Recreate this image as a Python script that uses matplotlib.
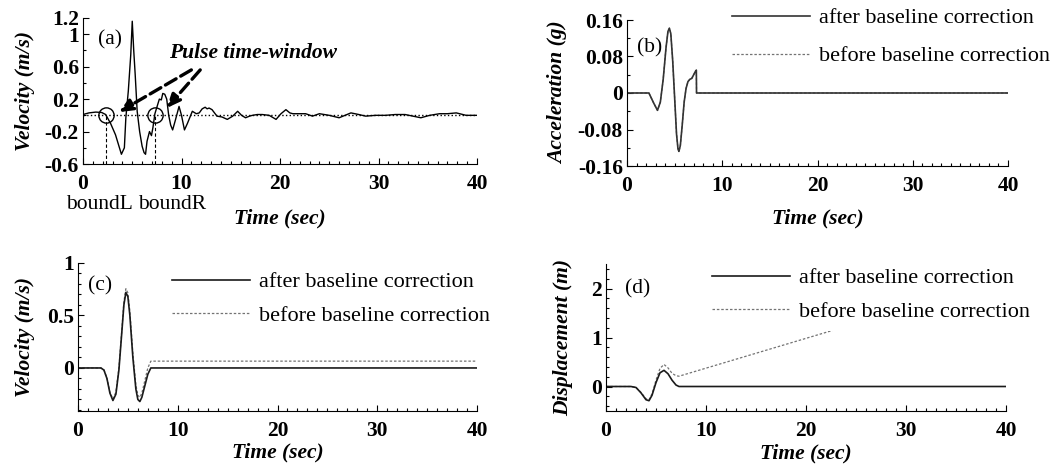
import matplotlib
matplotlib.use('Agg')
import matplotlib.pyplot as plt
from matplotlib.ticker import MultipleLocator, FixedLocator, FixedFormatter

plt.rcParams['font.family'] = ['Liberation Serif', 'DejaVu Serif']
plt.rcParams['axes.unicode_minus'] = False

# (a) recorded velocity
t_a = [0, 0.6, 1.3, 1.9, 2.3, 2.8, 3.3, 3.7, 3.9, 4.2, 4.35, 4.6, 4.85, 5.0, 5.15,
       5.3, 5.5, 5.75, 6.0, 6.2, 6.35, 6.5, 6.75, 6.95, 7.1, 7.3, 7.5, 7.75, 7.95,
       8.1, 8.3, 8.5, 8.7, 8.9, 9.1, 9.4, 9.75, 10.0, 10.3, 10.6, 11.1, 11.5, 11.8,
       12.1, 12.4, 12.6, 12.8, 13.1, 13.6, 14.1, 14.65, 15.2, 15.7, 16.1, 16.5,
       16.9, 17.2, 17.7, 18.2, 18.9, 19.6, 20.1, 20.6, 21.0, 21.3, 22.0, 22.6,
       23.3, 24.0, 25.0, 26.0, 27.2, 28.0, 28.7, 29.7, 30.7, 31.7, 32.7, 33.5,
       34.3, 35.2, 36.2, 37.0, 37.9, 38.9, 40]
v_a = [0.01, 0.03, 0.04, 0.035, 0.01, -0.1, -0.24, -0.4, -0.48, -0.4, -0.03, 0.3,
       0.75, 1.16, 0.8, 0.5, 0.05, -0.2, -0.38, -0.46, -0.48, -0.32, -0.2, -0.25,
       -0.15, 0.02, 0.1, 0.2, 0.19, 0.27, 0.26, 0.2, 0.0, -0.12, -0.18, -0.05, 0.11,
       0.0, -0.18, -0.1, 0.05, 0.02, 0.03, 0.08, 0.1, 0.08, 0.09, 0.07, -0.01,
       -0.02, -0.05, -0.01, 0.05, 0.0, -0.03, -0.01, 0.0, 0.01, 0.01, 0.0, -0.05,
       0.02, 0.07, 0.03, 0.02, 0.02, 0.02, -0.01, 0.02, 0.0, -0.03, 0.03, 0.01,
       -0.01, 0.0, 0.0, 0.01, 0.01, -0.01, -0.03, 0.0, 0.02, 0.02, 0.03, 0.0, 0.0]
bounds = [2.3, 7.3]

# (b) acceleration of extracted pulse
t_b = [0, 2.3, 2.8, 3.2, 3.5, 3.8, 4.1, 4.3, 4.45, 4.6, 4.8, 5.0, 5.2, 5.35, 5.45,
       5.6, 5.8, 6.0, 6.2, 6.4, 6.6, 6.8, 7.0, 7.2, 7.28, 7.3, 40]
acc_after = [0, 0, -0.022, -0.038, -0.02, 0.03, 0.10, 0.135, 0.142, 0.13, 0.07,
             -0.01, -0.09, -0.122, -0.128, -0.115, -0.07, -0.02, 0.01, 0.025, 0.03,
             0.032, 0.04, 0.048, 0.05, 0, 0]
acc_before = [0, 0, -0.022, -0.038, -0.02, 0.03, 0.10, 0.135, 0.142, 0.13, 0.07,
              -0.01, -0.09, -0.122, -0.128, -0.115, -0.07, -0.02, 0.01, 0.025, 0.03,
              0.032, 0.04, 0.048, 0.05, 0, 0]

# (c) velocity
t_c = [0, 2.3, 2.6, 2.9, 3.2, 3.5, 3.8, 4.1, 4.4, 4.6, 4.8, 5.0, 5.2, 5.5, 5.8,
       6.0, 6.2, 6.4, 6.7, 7.0, 7.3, 40]
vel_after = [0, 0, -0.02, -0.1, -0.24, -0.31, -0.25, -0.02, 0.35, 0.6, 0.72, 0.68,
             0.5, 0.1, -0.2, -0.3, -0.32, -0.28, -0.17, -0.06, 0, 0]
vel_before = [0, 0, -0.018, -0.095, -0.23, -0.295, -0.23, 0.0, 0.37, 0.63, 0.755,
              0.715, 0.54, 0.14, -0.16, -0.26, -0.28, -0.24, -0.12, 0.0, 0.065, 0.065]

# (d) displacement
t_d = [0, 2.5, 3.0, 3.5, 4.0, 4.3, 4.6, 5.0, 5.4, 5.8, 6.2, 6.6, 7.0, 7.3, 40]
disp_after = [0, 0, -0.02, -0.13, -0.27, -0.29, -0.18, 0.08, 0.28, 0.33, 0.26,
              0.13, 0.03, 0.0, 0.0]
disp_before = [0, 0, -0.02, -0.12, -0.25, -0.27, -0.15, 0.13, 0.37, 0.45, 0.38,
               0.27, 0.22, 0.21, 2.2]

W, H = 1064.0, 472.0
FS = 15.5
bold = dict(fontsize=FS, fontweight='bold', fontstyle='italic')

fig = plt.figure(figsize=(10.64, 4.72), dpi=100)


def make_axes(l, r, top, bot):
    return fig.add_axes([l / W, 1 - bot / H, (r - l) / W, (bot - top) / H])


def style(ax, ylim, yticks, ylabels, yminor, ylab, ylab_x, xlab_y):
    ax.set_xlim(0, 40)
    ax.set_ylim(*ylim)
    for s in ['top', 'right']:
        ax.spines[s].set_visible(False)
    ax.xaxis.set_major_locator(FixedLocator([0, 10, 20, 30, 40]))
    ax.xaxis.set_minor_locator(MultipleLocator(1))
    ax.yaxis.set_major_locator(FixedLocator(yticks))
    ax.yaxis.set_major_formatter(FixedFormatter(ylabels))
    ax.yaxis.set_minor_locator(MultipleLocator(yminor))
    ax.tick_params(which='major', direction='in', length=4, width=0.8)
    ax.tick_params(which='minor', direction='in', length=2, width=0.8)
    ax.tick_params(axis='x', which='major', pad=7)
    ax.tick_params(axis='y', which='major', pad=3)
    for lab in ax.get_xticklabels() + ax.get_yticklabels():
        lab.set_fontsize(FS)
        lab.set_fontweight('bold')
    ax.set_xlabel('Time (sec)', va='center', **bold)
    ax.xaxis.set_label_coords(0.5, xlab_y)
    ax.set_ylabel(ylab, va='center', **bold)
    ax.yaxis.set_label_coords(ylab_x, 0.5)


def add_legend(ax, x, y, spacing):
    # after-correction first, before-correction second
    h, l = ax.get_legend_handles_labels()
    ax.legend(h[::-1], l[::-1], loc='upper left',
              bbox_to_anchor=(x / W, 1 - y / H), bbox_transform=fig.transFigure,
              frameon=True, fancybox=False, edgecolor='none', facecolor='white',
              framealpha=1, fontsize=16, handlelength=3.5, handletextpad=0.4,
              borderpad=0.4, labelspacing=spacing, borderaxespad=0)


# ---- (a)
ax = make_axes(83, 477, 18, 164)
ax.plot([0, 40], [0, 0], 'k:', lw=1)
for b in bounds:
    ax.plot([b, b], [-0.6, 0], 'k--', lw=0.8, dashes=(3, 2))
ax.plot(t_a, v_a, color='k', lw=1)
ax.plot(bounds, [0, 0], 'o', mfc='none', mec='k', ms=11, mew=1)
ax.annotate('', xy=(3.65, 0.04), xytext=(11.0, 0.56),
            arrowprops=dict(arrowstyle='-|>,head_length=0.8,head_width=0.35',
                            ls='--', lw=2.4, color='k', shrinkA=0, shrinkB=0))
ax.annotate('', xy=(8.5, 0.09), xytext=(11.9, 0.56),
            arrowprops=dict(arrowstyle='-|>,head_length=0.8,head_width=0.35',
                            ls='--', lw=2.4, color='k', shrinkA=0, shrinkB=0))
ax.text(17.3, 0.77, 'Pulse time-window', ha='center', va='center', **bold)
ax.text(1.5, 0.93, '(a)', fontsize=FS, ha='left', va='center')
ax.text(1.7, -1.1, 'boundL', fontsize=FS, ha='center', va='center')
ax.text(9.0, -1.1, 'boundR', fontsize=FS, ha='center', va='center')
style(ax, (-0.6, 1.2), [-0.6, -0.2, 0.2, 0.6, 1, 1.2],
      ['-0.6', '-0.2', '0.2', '0.6', '1', '1.2'], 0.2,
      'Velocity (m/s)', (25 - 83) / 394, (164 - 218) / 146)

# ---- (b)
axb = make_axes(627, 1008, 20, 166)
axb.plot(t_b, acc_before, color='0.45', lw=0.9, ls='--', dashes=(2, 1.5),
         label='before baseline correction')
axb.plot(t_b, acc_after, color='0.2', lw=1.2, label='after baseline correction')
axb.text(1.0, 0.1, '(b)', fontsize=FS, ha='left', va='center')
style(axb, (-0.16, 0.16), [-0.16, -0.08, 0, 0.08, 0.16],
      ['-0.16', '-0.08', '0', '0.08', '0.16'], 0.04,
      'Acceleration (g)', (558 - 627) / 381, (166 - 218) / 146)
add_legend(axb, 723, -1, 0.78)

# ---- (c)
axc = make_axes(78, 477, 263, 411)
axc.plot(t_c, vel_before, color='0.45', lw=0.9, ls='--', dashes=(2, 1.5),
         label='before baseline correction')
axc.plot(t_c, vel_after, color='0.1', lw=1.2, label='after baseline correction')
axc.text(1.0, 0.78, '(c)', fontsize=FS, ha='left', va='center')
style(axc, (-0.41, 1.0), [0, 0.5, 1], ['0', '0.5', '1'], 0.1,
      'Velocity (m/s)', (25 - 78) / 399, (411 - 452) / 148)
add_legend(axc, 163, 263, 0.58)

# ---- (d)
axd = make_axes(606, 1006, 264, 411)
axd.plot(t_d, disp_before, color='0.45', lw=0.9, ls='--', dashes=(2, 1.5),
         label='before baseline correction')
axd.plot(t_d, disp_after, color='0.1', lw=1.2, label='after baseline correction')
axd.text(1.9, 2.0, '(d)', fontsize=FS, ha='left', va='center')
style(axd, (-0.5, 2.5), [0, 1, 2], ['0', '1', '2'], 0.2,
      'Displacement (m)', (563 - 606) / 400, (411 - 453) / 147)
add_legend(axd, 703, 259, 0.58)

fig.savefig('out.png', dpi=100)
